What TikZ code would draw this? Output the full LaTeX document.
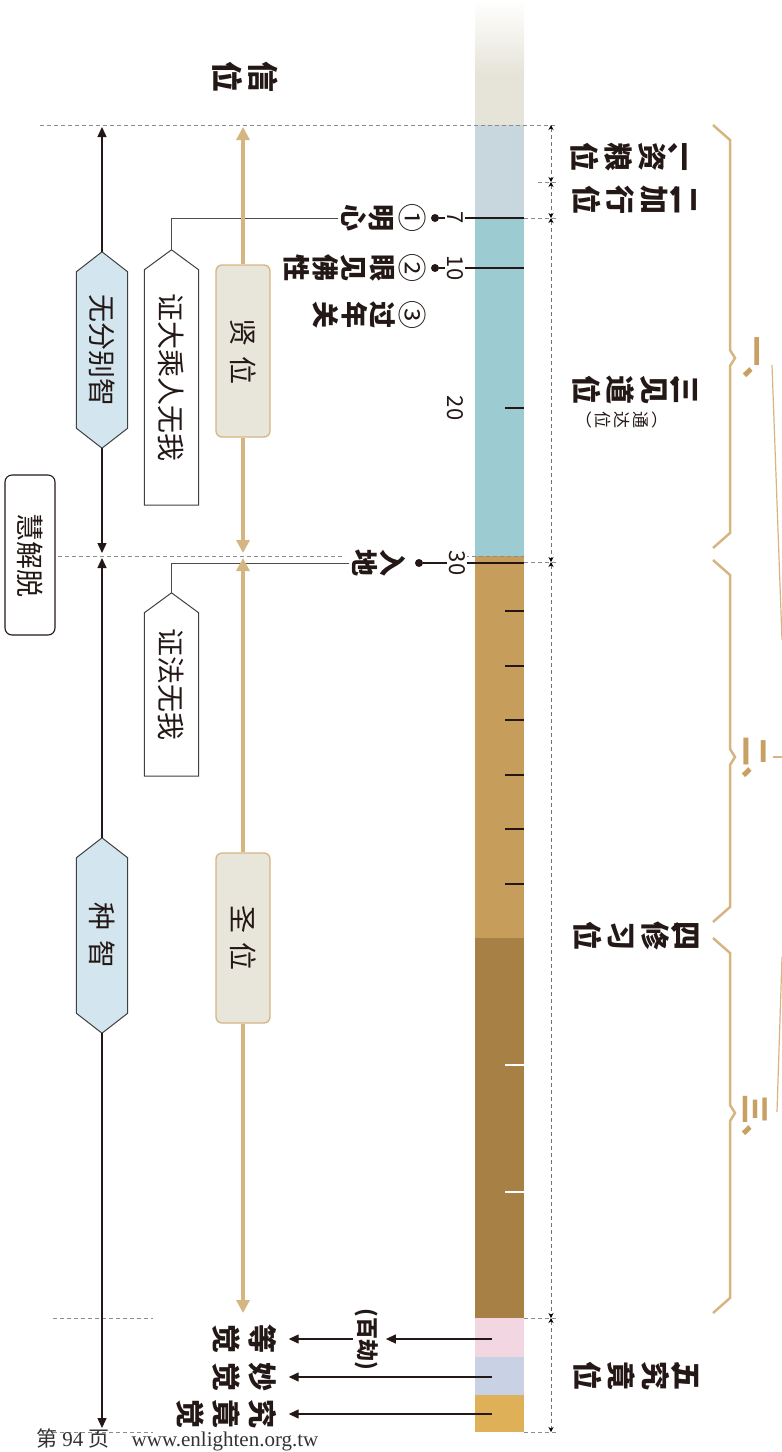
\documentclass[tikz,border=0pt]{standalone}
\usepackage{fontspec}
\usepackage{graphicx}
\setmainfont{Noto Sans CJK SC}
\newfontfamily\enserif{Liberation Serif}
\usetikzlibrary{arrows.meta,backgrounds}
\definecolor{topbeige}{HTML}{E6E4D8}
\definecolor{segA}{HTML}{C8D7DD}
\definecolor{segB}{HTML}{9CCBD1}
\definecolor{segC}{HTML}{C79D5C}
\definecolor{segD}{HTML}{A68044}
\definecolor{segE}{HTML}{F2D6E2}
\definecolor{segF}{HTML}{C9D1E5}
\definecolor{segG}{HTML}{DEB158}
\definecolor{goldln}{HTML}{D5B683}
\definecolor{goldtx}{HTML}{C9A063}
\definecolor{boxbg}{HTML}{E8E6DB}
\definecolor{hexbg}{HTML}{D3E6F0}
\definecolor{inkk}{HTML}{231815}
\newcommand\vt[1]{\rotatebox{-90}{#1}}
\newcommand\cjs{\rule[-.12em]{0pt}{1em}}
\begin{document}
\begin{tikzpicture}[x=1pt,y=-1pt,
  dashln/.style={draw=black!45,line width=.8pt,dash pattern=on 4pt off 3pt},
  dimln/.style={dashln,draw=black!55,{Stealth[length=5pt,width=5pt,color=black]}-{Stealth[length=5pt,width=5pt,color=black]}},
  blkarr/.style={draw=inkk,line width=1.4pt,-{Triangle[length=10pt,width=9pt]}},
  garr/.style={draw=goldln,line width=4pt,-{Triangle[length=13pt,width=13pt]}},
  conn/.style={draw=black!70,line width=.9pt},
  tickln/.style={draw=inkk,line width=1.2pt},
  boxt/.style={rectangle,inner sep=0pt,text=inkk,font=\fontsize{28}{30}\selectfont},
  hexb/.style={boxt,minimum width=51pt},
  pentb/.style={boxt,minimum width=54pt},
  hexln/.style={draw=black!75,line width=1pt,fill=hexbg,line join=miter},
  pentln/.style={draw=black!75,line width=1pt,fill=white,line join=miter},
  ybox/.style={boxt,rounded corners=6pt,draw=goldln,line width=1.3pt,fill=boxbg,minimum width=54pt},
  kai/.style={rotate=-90,align=center,inner sep=2pt,text=inkk,font=\fontsize{27}{28.5}\selectfont\bfseries},
  rkai/.style={kai,font=\fontsize{29}{34}\selectfont\bfseries},
  bkai/.style={kai,font=\fontsize{29}{36}\selectfont\bfseries},
  num/.style={rotate=-90,inner sep=1.5pt,fill=white,text=inkk,font=\fontsize{22}{24}\selectfont},
  circ/.style={rotate=-90,inner sep=0pt,text=inkk,font=\fontsize{29}{30}\selectfont},
  dotn/.style={circle,fill=inkk,inner sep=0pt,minimum size=8pt},
  gbrace/.style={draw=goldln,line width=2.5pt},
  gnum/.style={rotate=-90,text=goldtx,inner sep=1pt,font=\fontsize{30}{32}\selectfont\bfseries},
  gthin/.style={draw=goldln,line width=1.2pt}]
\useasboundingbox (0,0) rectangle (782,1452);
% the scale bar
\shade[top color=white,bottom color=topbeige] (475,0) rectangle (524,75);
\fill[topbeige] (475,75) rectangle (524,125); \fill[segA] (475,125) rectangle (524,218);
\fill[segB] (475,218) rectangle (524,556); \fill[segC] (475,556) rectangle (524,938);
\fill[segD] (475,938) rectangle (524,1318); \fill[segE] (475,1318) rectangle (524,1357);
\fill[segF] (475,1357) rectangle (524,1395); \fill[segG] (475,1395) rectangle (524,1432);
\foreach \t in {611,666,720,775,829,884} \draw[tickln] (505,\t) -- (524,\t);
\foreach \t in {1065,1192} \draw[white,line width=1.2pt] (505,\t) -- (524,\t);
\draw[tickln] (505,408) -- (524,408);
% dashed guides and the dimension line
\draw[dashln] (40,125) -- (557,125);
\draw[dashln] (58,556) -- (345,556); \draw[dashln] (465,556) -- (524,556);
\foreach \t/\s in {182/538,218/524,562/524,1318/524,1432/524} \draw[dashln] (\s,\t) -- (558,\t);
\draw[dashln] (53,1318) -- (153,1318); \draw[dashln] (53,1432) -- (153,1432);
\foreach \a/\b in {125/182,182/218,218/562,562/1318,1318/1432} \draw[dimln] (551,\a) -- (551,\b);
% braces on the right
\draw[gbrace] (713,125) -- (730,140) -- (730,350) -- (735,358) -- (730,366) -- (730,533) -- (713,548);
\draw[gbrace] (713,560) -- (730,575) -- (730,749) -- (735,757) -- (730,765) -- (730,907) -- (713,922);
\draw[gbrace] (713,938) -- (730,953) -- (730,1105) -- (735,1113) -- (730,1121) -- (730,1298) -- (713,1313);
\node[gnum] (gl1) at (751,366) {一、}; \node[gnum] (gl2) at (754,766) {二、};
\node[gnum] (gl3) at (755,1124) {三、};
\coordinate (ge1) at (782,640); \coordinate (ge2) at (782,757); \coordinate (ge3) at (782,957);
\draw[gthin] (772,365) -- (ge1); \draw[gthin] (773,757) -- (ge2); \draw[gthin] (ge3) -- (777,1112);
% stage names
\node[rkai] (zl) at (635,157) {\cjs 一\\[-31pt]、\\[-5pt]资\\粮\\\cjs 位};
\node[rkai] (jx) at (637,200) {\cjs 二\\[-31pt]、\\[-5pt]加\\行\\\cjs 位};
\node[rkai] (jd) at (637,390) {\cjs 三\\[-31pt]、\\[-5pt]见\\道\\\cjs 位};
\node[kai,font=\fontsize{17}{19}\selectfont] (tdw) at (622,420) {\cjs ︵\\通\\达\\位\\\cjs ︶};
\node[rkai] (xx) at (638,936) {\cjs 四\\[-31pt]、\\[-5pt]修\\习\\\cjs 位};
\node[rkai] (jjw) at (638,1376) {\cjs 五\\[-31pt]、\\[-5pt]究\\竟\\\cjs 位};
% marks 7 10 20 30
\node[dotn] (d7) at (435,218) {}; \node[num] (n7) at (455,218) {7}; \coordinate (b7) at (524,218);
\node[dotn] (d10) at (435,268) {}; \node[num] (n10) at (455,268) {10}; \coordinate (b10) at (524,268);
\node[num] (n20) at (455,408) {20};
\node[dotn] (d30) at (419,563) {}; \node[num] (n30) at (457,563) {30}; \coordinate (b30) at (524,563);
\draw[tickln] (d7) -- (n7) -- (b7); \draw[tickln] (d10) -- (n10) -- (b10);
\draw[tickln] (d30) -- (n30) -- (b30);
\node[circ] (c1) at (413,218) {①}; \node[circ] (c2) at (413,268) {②};
\node[circ] (c3) at (413,315) {③};
\node[kai] (mx) at (368,218) {\cjs 明\\\cjs 心};
\node[kai] (yj) at (340,268) {\cjs 眼\\见\\佛\\\cjs 性};
\node[kai] (gn) at (354.5,315) {\cjs 过\\年\\\cjs 关};
\node[kai] (rd) at (379,563) {\cjs 入\\\cjs 地};
\node[kai,font=\fontsize{31}{36}\selectfont\bfseries] (xinw) at (245,77) {\cjs 信\\\cjs 位};
% boxes
\node[pentb,minimum height=255pt] (zdc) at (171.5,377.5) {\vt{证大乘人无我}};
\node[pentb,minimum height=183pt] (zfw) at (171.5,684.5) {\vt{证法无我}};
\node[hexb,minimum height=196pt] (wf) at (102,350) {\vt{无分别智}};
\node[hexb,minimum height=195pt] (zz) at (102,935.5) {\vt{种\hspace{10pt}智}};
\begin{scope}[on background layer]
\foreach \n in {wf,zz} \draw[hexln] (\n.north) -- ([yshift=-20pt]\n.north east) -- ([yshift=20pt]\n.south east)
  -- (\n.south) -- ([yshift=20pt]\n.south west) -- ([yshift=-20pt]\n.north west) -- cycle;
\foreach \n in {zdc,zfw} \draw[pentln] (\n.north) -- ([yshift=-20pt]\n.north east) -- (\n.south east)
  -- (\n.south west) -- ([yshift=-20pt]\n.north west) -- cycle;
\end{scope}
\draw[conn] (mx) -| (zdc.north); \draw[conn] (rd) -| (zfw.north);
\node[ybox,minimum height=172pt] (xw) at (243,351) {\vt{贤\hspace{10pt}位}};
\node[ybox,minimum height=170pt] (sw) at (243,938) {\vt{圣\hspace{9pt}位}};
\node[ybox,draw=inkk,line width=1.1pt,fill=white,minimum width=50pt,minimum height=160pt,rounded corners=7pt] (hjt) at (30,555) {\vt{慧解脱}};
% arrows
\coordinate (k1) at (102,127); \coordinate (k2) at (102,553);
\coordinate (k3) at (102,558); \coordinate (k4) at (102,1428);
\draw[blkarr] (wf.north) -- (k1); \draw[blkarr] (wf.south) -- (k2);
\draw[blkarr] (zz.north) -- (k3); \draw[blkarr] (zz.south) -- (k4);
\coordinate (q1) at (243,127); \coordinate (q2) at (243,553);
\coordinate (q3) at (243,558); \coordinate (q4) at (243,1313);
\draw[garr] (xw.north) -- (q1); \draw[garr] (xw.south) -- (q2);
\draw[garr] (sw.north) -- (q3); \draw[garr] (sw.south) -- (q4);
% the last stage
\node[kai,font=\fontsize{22}{24}\selectfont\bfseries] (bj) at (367,1339) {(百劫)};
\node[bkai] (dj) at (245,1339) {\cjs 等\\\cjs 觉};
\node[bkai] (mj) at (245,1377) {\cjs 妙\\\cjs 觉};
\node[bkai] (jj) at (227,1414) {\cjs 究\\竟\\\cjs 觉};
\coordinate (a1) at (492,1339); \coordinate (a2) at (492,1377); \coordinate (a3) at (492,1414);
\draw[blkarr,line width=1.3pt,shorten >=5pt] (a1) -- (bj); \draw[blkarr,line width=1.3pt,shorten >=9pt] (bj) -- (dj);
\draw[blkarr,line width=1.3pt,shorten >=9pt] (a2) -- (mj); \draw[blkarr,line width=1.3pt,shorten >=9pt] (a3) -- (jj);
\node[anchor=base west,inner sep=0pt,text=black!80,font=\fontsize{21}{24}\selectfont] (pg) at (36,1446) {第{\enserif\ 94 }页\hspace{22pt}{\enserif www.enlighten.org.tw}};
\end{tikzpicture}
\end{document}
